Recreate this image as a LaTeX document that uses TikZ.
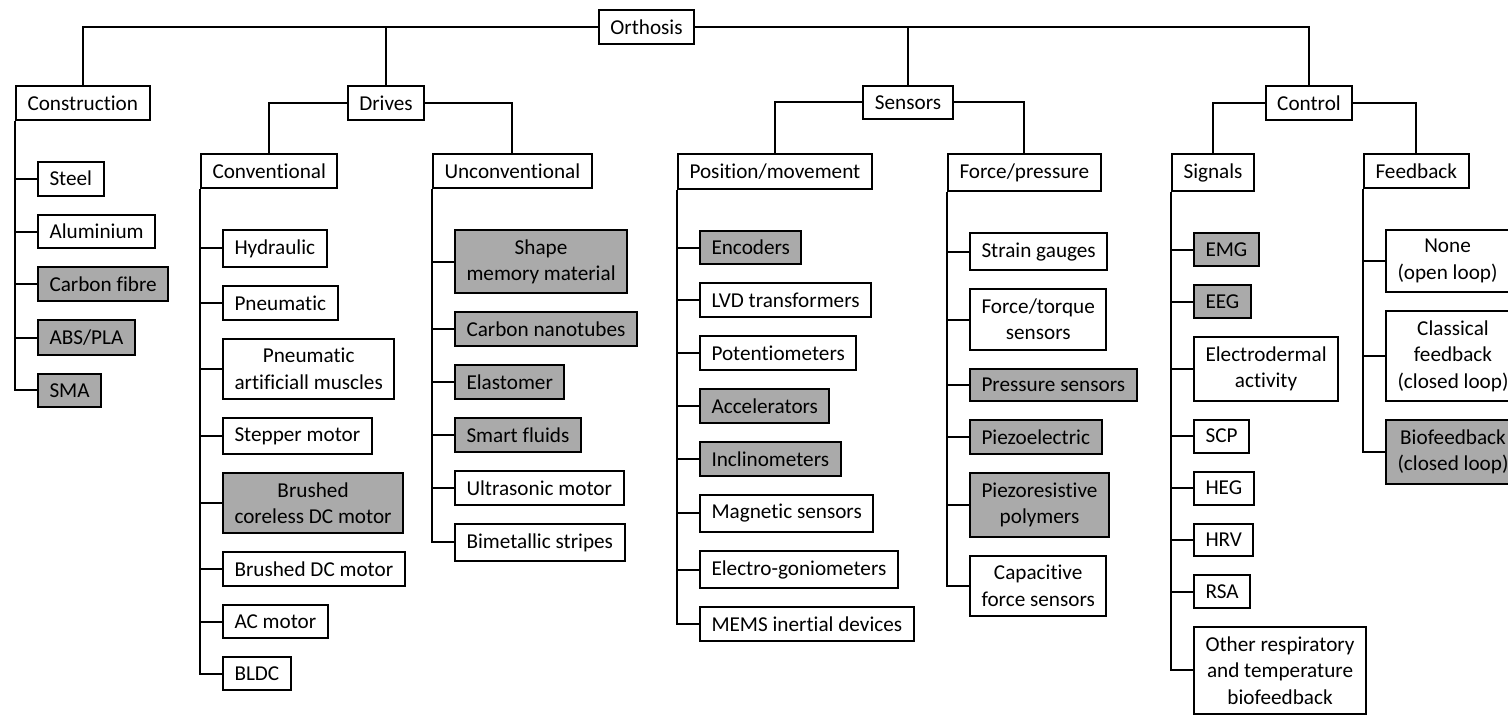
\documentclass[tikz,border=0pt]{standalone}
\usepackage{fontspec}
\setmainfont{Carlito}[Ligatures={NoCommon,NoContextual}]
\definecolor{boxgray}{RGB}{170,170,170}
\begin{document}
\begin{tikzpicture}[x=0.5pt,y=-0.5pt,
  box/.style={draw, line width=1pt, inner xsep=5.75pt, inner ysep=4.75pt,
    font=\fontsize{10.6}{13.2}\selectfont, align=center, fill=white},
  hl/.style={box, fill=boxgray},
  conn/.style={line width=1pt},
  first/.style={anchor=north west, xshift=11pt, yshift=-20pt},
  next/.style={anchor=north west, yshift=-8.5pt}
]
\useasboundingbox (0,0) rectangle (1508,721);

% level 0 and 1
\node[box, anchor=north] (orth) at (646.5,9) {Orthosis};
\node[box, anchor=north west] (constr) at (15,85) {Construction};
\node[box, anchor=north] (drives) at (386,85) {Drives};
\node[box, anchor=north] (sensors) at (908,85) {Sensors};
\node[box, anchor=north] (control) at (1309,85) {Control};

% level 2
\node[box, anchor=north west] (conv) at (200,153) {Conventional};
\node[box, anchor=north west] (unconv) at (432,153) {Unconventional};
\node[box, anchor=north west] (posi) at (677,153) {Position/movement};
\node[box, anchor=north west] (force) at (947,153) {Force/pressure};
\node[box, anchor=north west] (signals) at (1171,153) {Signals};
\node[box, anchor=north west] (feedback) at (1363,153) {Feedback};

% tree connectors
\draw[conn] (orth.west) -| (constr.north);
\draw[conn] (orth.west) -| (drives.north);
\draw[conn] (orth.east) -| (sensors.north);
\draw[conn] (orth.east) -| (control.north);
\draw[conn] (drives.west) -| (conv.north);
\draw[conn] (drives.east) -| (unconv.north);
\draw[conn] (sensors.west) -| (posi.north);
\draw[conn] (sensors.east) -| (force.north);
\draw[conn] (control.west) -| (signals.north);
\draw[conn] (control.east) -| (feedback.north);

% Construction
\node[box, first] (steel) at (constr.south west) {Steel};
\node[box, next] (alu) at (steel.south west) {Aluminium};
\node[hl, next] (carbon) at (alu.south west) {Carbon fibre};
\node[hl, next] (abs) at (carbon.south west) {ABS/PLA};
\node[hl, next] (sma) at (abs.south west) {SMA};
\foreach \n in {steel,alu,carbon,abs,sma} \draw[conn] (constr.south west) |- (\n.west);

% Conventional
\node[box, first] (hyd) at (conv.south west) {Hydraulic};
\node[box, next] (pneu) at (hyd.south west) {Pneumatic};
\node[box, next] (pam) at (pneu.south west) {Pneumatic\\artificiall muscles};
\node[box, next] (stepper) at (pam.south west) {Stepper motor};
\node[hl, next] (bcdc) at (stepper.south west) {Brushed\\coreless DC motor};
\node[box, next] (bdc) at (bcdc.south west) {Brushed DC motor};
\node[box, next] (acm) at (bdc.south west) {AC motor};
\node[box, next] (bldc) at (acm.south west) {BLDC};
\foreach \n in {hyd,pneu,pam,stepper,bcdc,bdc,acm,bldc} \draw[conn] (conv.south west) |- (\n.west);

% Unconventional
\node[hl, first] (smm) at (unconv.south west) {Shape\\memory material};
\node[hl, next] (cnt) at (smm.south west) {Carbon nanotubes};
\node[hl, next] (elast) at (cnt.south west) {Elastomer};
\node[hl, next] (smart) at (elast.south west) {Smart fluids};
\node[box, next] (ultra) at (smart.south west) {Ultrasonic motor};
\node[box, next] (bimet) at (ultra.south west) {Bimetallic stripes};
\foreach \n in {smm,cnt,elast,smart,ultra,bimet} \draw[conn] (unconv.south west) |- (\n.west);

% Position/movement
\node[hl, first] (enc) at (posi.south west) {Encoders};
\node[box, next] (lvd) at (enc.south west) {LVD transformers};
\node[box, next] (pot) at (lvd.south west) {Potentiometers};
\node[hl, next] (accel) at (pot.south west) {Accelerators};
\node[hl, next] (incl) at (accel.south west) {Inclinometers};
\node[box, next] (magn) at (incl.south west) {Magnetic sensors};
\node[box, next] (egon) at (magn.south west) {Electro-goniometers};
\node[box, next] (mems) at (egon.south west) {MEMS inertial devices};
\foreach \n in {enc,lvd,pot,accel,incl,magn,egon,mems} \draw[conn] (posi.south west) |- (\n.west);

% Force/pressure
\node[box, first] (strain) at (force.south west) {Strain gauges};
\node[box, next] (ftorque) at (strain.south west) {Force/torque\\sensors};
\node[hl, next] (press) at (ftorque.south west) {Pressure sensors};
\node[hl, next] (piezo) at (press.south west) {Piezoelectric};
\node[hl, next] (piezor) at (piezo.south west) {Piezoresistive\\polymers};
\node[box, next] (capac) at (piezor.south west) {Capacitive\\force sensors};
\foreach \n in {strain,ftorque,press,piezo,piezor,capac} \draw[conn] (force.south west) |- (\n.west);

% Signals
\node[hl, first] (emg) at (signals.south west) {EMG};
\node[hl, next] (eeg) at (emg.south west) {EEG};
\node[box, next] (eda) at (eeg.south west) {Electrodermal\\activity};
\node[box, next] (scp) at (eda.south west) {SCP};
\node[box, next] (heg) at (scp.south west) {HEG};
\node[box, next] (hrv) at (heg.south west) {HRV};
\node[box, next] (rsa) at (hrv.south west) {RSA};
\node[box, next] (other) at (rsa.south west) {Other respiratory\\and temperature\\biofeedback};
\foreach \n in {emg,eeg,eda,scp,heg,hrv,rsa,other} \draw[conn] (signals.south west) |- (\n.west);

% Feedback
\node[box, first] (none) at (feedback.south west) {None\\(open loop)};
\node[box, next] (classic) at (none.south west) {Classical\\feedback\\(closed loop)};
\node[hl, next] (bio) at (classic.south west) {Biofeedback\\(closed loop)};
\foreach \n in {none,classic,bio} \draw[conn] (feedback.south west) |- (\n.west);
\end{tikzpicture}
\end{document}
